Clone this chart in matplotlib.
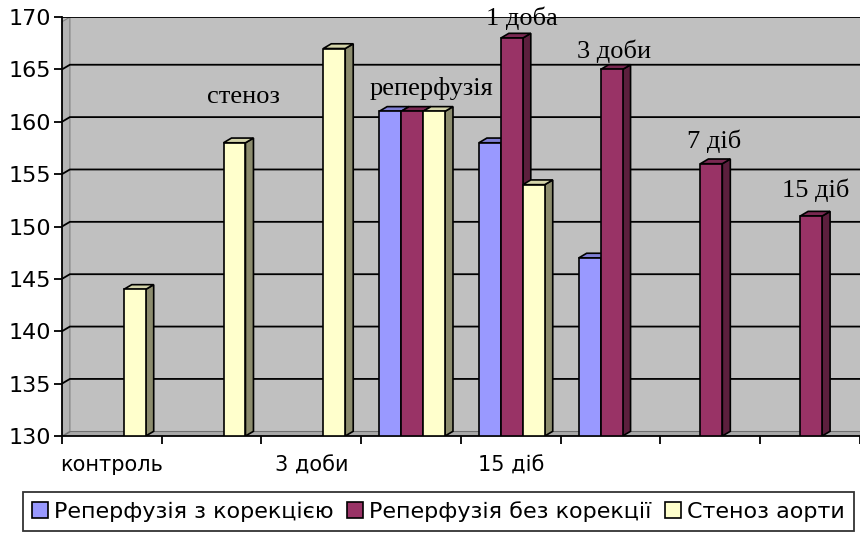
import matplotlib
matplotlib.use("Agg")
import matplotlib.pyplot as plt
from matplotlib.patches import Polygon, Patch
import numpy as np

# групи по осі X (підписані лише парні)
categories = ["контроль", "", "3 доби", "", "15 діб", "", "", ""]
series_names = ["Реперфузія з корекцією", "Реперфузія без корекції", "Стеноз аорти"]

# значення по групах, None - стовпчика немає
reperf_corr = [None, None, None, 161, 158, 147, None, None]
reperf_nocorr = [None, None, None, 161, 168, 165, 156, 151]
stenosis = [144, 158, 167, 161, 154, None, None, None]

notes = ["стеноз", "реперфузія", "1 доба", "3 доби", "7 діб", "15 діб"]
note_x = [1.82, 3.70, 4.61, 5.53, 6.54, 7.56]
note_y = [162.4, 163.2, 169.9, 166.7, 158.1, 153.5]

front = ["#9999ff", "#993366", "#ffffcc"]
side = ["#5c5c99", "#5c1f3d", "#8c8c6e"]
top = ["#7f7fd4", "#7a2952", "#d4d4aa"]

ymin, ymax = 130, 170
width = 0.22
dx, dy = 0.08, 0.45

fig = plt.figure(figsize=(8.6, 5.34), dpi=100)
ax = fig.add_axes([0.072, 0.1835, 0.928, 0.7845])
ax.set_facecolor("#c0c0c0")
ax.set_xlim(0, 8)
ax.set_ylim(ymin, ymax)

# ліва стінка і підлога
ax.add_patch(Polygon([(0, ymin), (dx, ymin + dy), (dx, ymax), (0, ymax - dy)],
                     closed=True, fc="#b4b4b4", ec="#808080", lw=0.8, zorder=0.5))
ax.add_patch(Polygon([(0, ymin), (8, ymin), (8, ymin + dy), (dx, ymin + dy)],
                     closed=True, fc="#a8a8a8", ec="#707070", lw=0.8, zorder=0.5))

for v in range(135, 171, 5):
    yb = min(v + dy, ymax)
    ax.plot([0, dx, 8], [v, yb, yb], color="black", lw=1.3, zorder=1,
            solid_joinstyle="miter")

for s, vals in enumerate([reperf_corr, reperf_nocorr, stenosis]):
    for i, v in enumerate(vals):
        if v is None:
            continue
        x0 = i + 0.18 + s * width
        ax.bar(x0, v - ymin, width, bottom=ymin, align="edge",
               color=front[s], edgecolor="black", lw=1.2, zorder=3)
        ax.add_patch(Polygon([(x0 + width, ymin), (x0 + width + dx, ymin + dy),
                              (x0 + width + dx, v + dy), (x0 + width, v)],
                             closed=True, fc=side[s], ec="black", lw=1.2, zorder=2.9))
        ax.add_patch(Polygon([(x0, v), (x0 + width, v), (x0 + width + dx, v + dy),
                              (x0 + dx, v + dy)],
                             closed=True, fc=top[s], ec="black", lw=1.2, zorder=2.9,
                             clip_on=False))

for t, x, y in zip(notes, note_x, note_y):
    ax.text(x, y, t, ha="center", va="center", fontsize=19,
            family="Liberation Serif", zorder=5, clip_on=False)

ax.spines["top"].set_visible(False)
ax.spines["right"].set_visible(False)
for sp in ["left", "bottom"]:
    ax.spines[sp].set_linewidth(1.3)

ax.set_yticks(np.arange(130, 171, 5))
ax.tick_params(axis="y", labelsize=16, length=6, width=1.3, pad=2)
ax.set_xticks(np.arange(0, 9, 1))
ax.set_xticklabels([])
ax.tick_params(axis="x", which="major", length=6, width=1.3)
ax.set_xticks(np.arange(len(categories)) + 0.5, minor=True)
ax.set_xticklabels(categories, minor=True)
ax.tick_params(axis="x", which="minor", length=0, labelsize=15, pad=14)
for lab in ax.get_yticklabels() + ax.get_xticklabels(minor=True):
    lab.set_family("DejaVu Sans")

handles = [Patch(fc=front[k], ec="black", lw=1.2) for k in range(3)]
leg = fig.legend(handles, series_names, loc="lower left", ncol=3,
                 bbox_to_anchor=(0.014, -0.015), frameon=True,
                 fancybox=False, edgecolor="black", handlelength=0.7,
                 handleheight=0.7, handletextpad=0.3, columnspacing=0.6,
                 borderpad=0.4, prop={"family": "DejaVu Sans", "size": 16})
leg.get_frame().set_linewidth(1.3)

fig.savefig("out.png", dpi=100)
